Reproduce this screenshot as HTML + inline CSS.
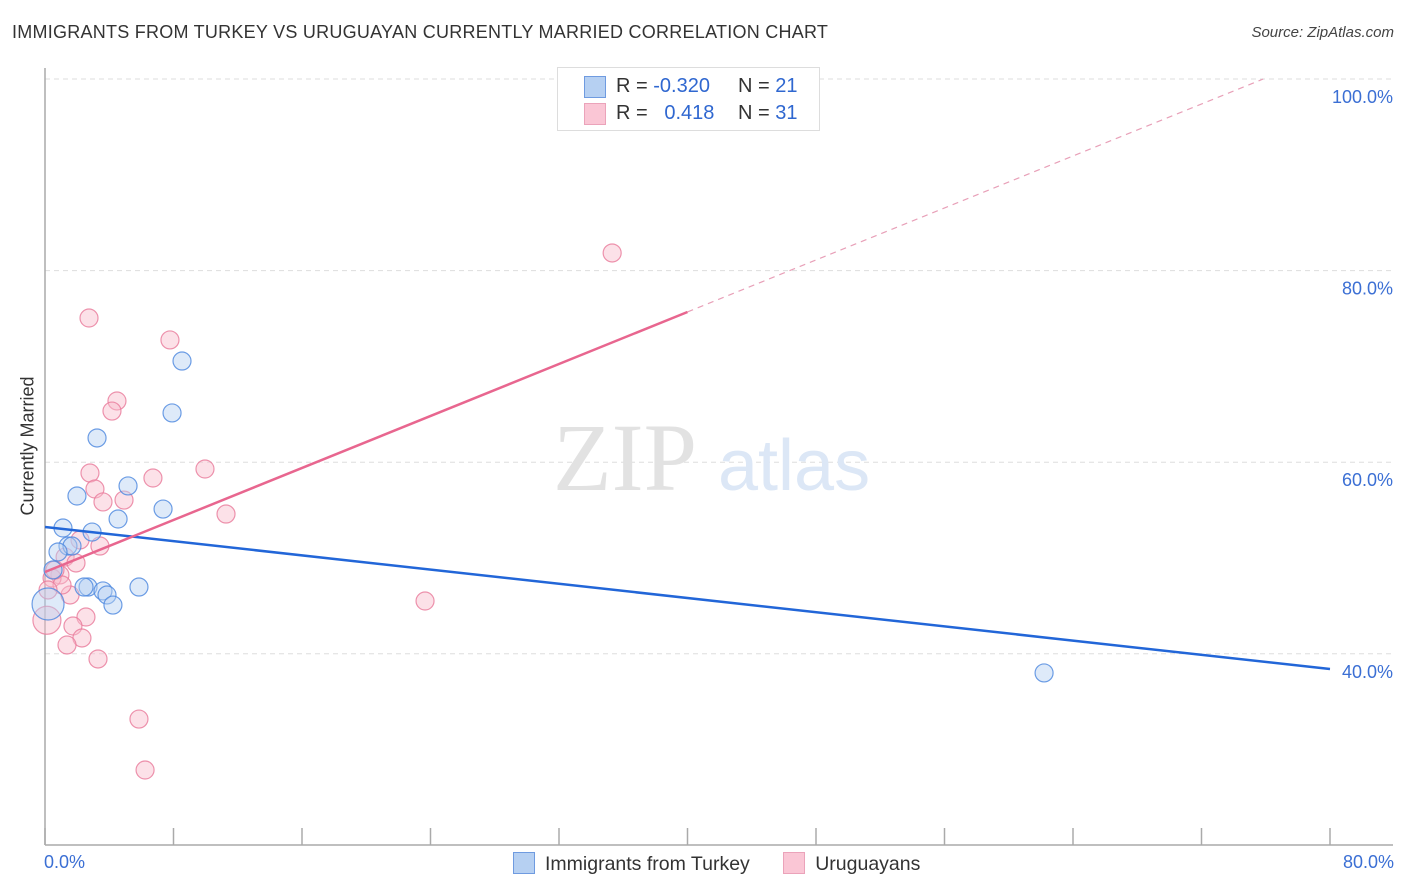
<!DOCTYPE html>
<html><head><meta charset="utf-8"><style>
body{margin:0;background:#fff;font-family:"Liberation Sans",sans-serif;}
#wrap{position:relative;width:1406px;height:892px;overflow:hidden;}
.t{position:absolute;white-space:nowrap;}
</style></head><body>
<div id="wrap">
<div class="t" style="left:12px;top:22px;font-size:18px;color:#333;letter-spacing:0.25px;">IMMIGRANTS FROM TURKEY VS URUGUAYAN CURRENTLY MARRIED CORRELATION CHART</div>
<div class="t" style="right:12px;top:24px;font-size:15px;color:#444;font-style:italic;">Source: ZipAtlas.com</div>
<svg id="svg" width="1406" height="892" style="position:absolute;left:0;top:0"></svg>
</div>
<script>
const blueX=[8.53,7.91,3.24,1.99,5.17,4.55,7.35,1.12,2.93,1.43,1.68,0.81,0.50,2.68,2.43,3.61,3.86,4.23,5.85,0.19,62.2];
const blueY=[70.56,65.14,62.53,56.47,57.52,54.07,55.11,53.13,52.71,51.25,51.25,50.63,48.75,46.97,46.97,46.56,46.14,45.09,46.97,45.2,38.0];
const blueR=[9,9,9,9,9,9,9,9,9,9,9,9,9,9,9,9,9,9,9,16,9];
const pinkX=[2.74,7.78,4.48,4.17,2.80,9.96,6.72,3.11,3.61,4.92,11.27,3.42,1.25,1.93,0.93,0.44,1.56,2.55,1.74,2.30,1.37,3.30,5.85,6.23,35.31,23.66,0.12,2.18,1.06,0.62,0.19];
const pinkY=[75.05,72.76,66.39,65.34,58.87,59.29,58.35,57.20,55.85,56.05,54.59,51.25,50.10,49.48,48.23,47.91,46.14,43.84,42.90,41.65,40.92,39.46,33.19,27.87,81.84,45.51,43.5,51.88,47.18,48.75,46.66];
const pinkR=[9,9,9,9,9,9,9,9,9,9,9,9,9,9,9,9,9,9,9,9,9,9,9,9,9,9,14,9,9,9,9];
const blueTrend=[53.24,38.41]; // y at x=0 and x=80
const pinkTrend=[48.54,75.68]; // y at x=0 and x=40
const yTicks=[100,80,60,40];
const yTickLabels=["100.0%","80.0%","60.0%","40.0%"];
const xTicks=[0,8,16,24,32,40,48,56,64,72,80];

const svg=document.getElementById('svg');
const NS='http://www.w3.org/2000/svg';
const X=v=>45+v*16.0625;
const Y=v=>79+(100-v)*9.58;
function mk(tag,attrs,parent){const e=document.createElementNS(NS,tag);for(const k in attrs)e.setAttribute(k,attrs[k]);(parent||svg).appendChild(e);return e;}

yTicks.forEach((v,i)=>{
  const g=mk('line',{x1:45,x2:1393,y1:Y(v),y2:Y(v),stroke:'#dddddd','stroke-dasharray':'5,4','stroke-width':1});
  
  
  const t=mk('text',{x:1393,y:Y(v)+24,'text-anchor':'end','font-size':18,fill:'#3b6fd4','font-family':'Liberation Sans, sans-serif'});
  t.textContent=yTickLabels[i];
  
  
});
const ax=mk('line',{x1:45,x2:45,y1:68,y2:845,stroke:'#aaa','stroke-width':1.5});


const bx=mk('line',{x1:45,x2:1393,y1:845,y2:845,stroke:'#aaa','stroke-width':1.5});


xTicks.forEach(v=>{
  const l=mk('line',{x1:X(v),x2:X(v),y1:828,y2:845,stroke:'#aaa','stroke-width':1.5});
  
  
});
const wm=mk('text',{x:553,y:490,'font-size':96,fill:'#e2e2e2','font-family':'Liberation Serif, serif'});
wm.textContent='ZIP';


const wm2=mk('text',{x:718,y:490,'font-size':72,fill:'#dce7f6','font-family':'Liberation Sans, sans-serif'});
wm2.textContent='atlas';



function pts(xs,ys,rs,fill,stroke,name){
  xs.forEach((x,i)=>{
    const c=mk('circle',{cx:X(x),cy:Y(ys[i]),r:rs[i],fill:fill,'fill-opacity':0.45,stroke:stroke,'stroke-width':1.2,'stroke-opacity':0.8});
    
    
  });
}
pts(pinkX,pinkY,pinkR,'#f8bccd','#e8799a','uruguayan-point');
pts(blueX,blueY,blueR,'#b6d0f2','#4a86de','turkey-point');

const bl=mk('line',{x1:X(0),y1:Y(blueTrend[0]),x2:X(80),y2:Y(blueTrend[1]),stroke:'#2266d8','stroke-width':2.5});


const slope=(pinkTrend[1]-pinkTrend[0])/40;
const pl=mk('line',{x1:X(0),y1:Y(pinkTrend[0]),x2:X(40),y2:Y(pinkTrend[1]),stroke:'#e8668f','stroke-width':2.5});


const xe=(100-pinkTrend[0])/slope;
const pd=mk('line',{x1:X(40),y1:Y(pinkTrend[1]),x2:X(xe),y2:Y(100),stroke:'#e8a0b8','stroke-width':1.2,'stroke-dasharray':'6,5'});


</script>
<div class="t" style="left:-32px;top:445px;font-size:18px;color:#333;transform:rotate(-90deg);transform-origin:center;width:120px;text-align:center;">Currently Married</div>
<div class="t" style="left:44px;top:852px;font-size:18px;color:#3b6fd4;">0.0%</div>
<div class="t" style="right:12px;top:852px;font-size:18px;color:#3b6fd4;">80.0%</div>
<div style="position:absolute;left:557px;top:67px;width:261px;height:62px;border:1px solid #ddd;background:#fff;font-size:20px;color:#333;">
 <div style="position:absolute;left:26px;top:8px;width:20px;height:20px;background:#b6d0f2;border:1px solid #6f9be0;"></div>
 <div class="t" style="left:58px;top:7px;">R = <span style="color:#2f67d0">-0.320</span></div>
 <div class="t" style="left:180px;top:7px;">N = <span style="color:#2f67d0">21</span></div>
 <div style="position:absolute;left:26px;top:35px;width:20px;height:20px;background:#fac6d5;border:1px solid #eba3ba;"></div>
 <div class="t" style="left:58px;top:34px;">R = &nbsp;&nbsp;<span style="color:#2f67d0">0.418</span></div>
 <div class="t" style="left:180px;top:34px;">N = <span style="color:#2f67d0">31</span></div>
</div>
<div style="position:absolute;left:513px;top:852px;font-size:19.5px;color:#333;">
 <span style="display:inline-block;"><span style="display:inline-block;width:20px;height:20px;background:#b6d0f2;border:1px solid #6f9be0;vertical-align:-4px;margin-right:10px;"></span>Immigrants from Turkey</span>
 <span style="display:inline-block;margin-left:28px;"><span style="display:inline-block;width:20px;height:20px;background:#fac6d5;border:1px solid #eba3ba;vertical-align:-4px;margin-right:10px;"></span>Uruguayans</span>
</div>
</body></html>
